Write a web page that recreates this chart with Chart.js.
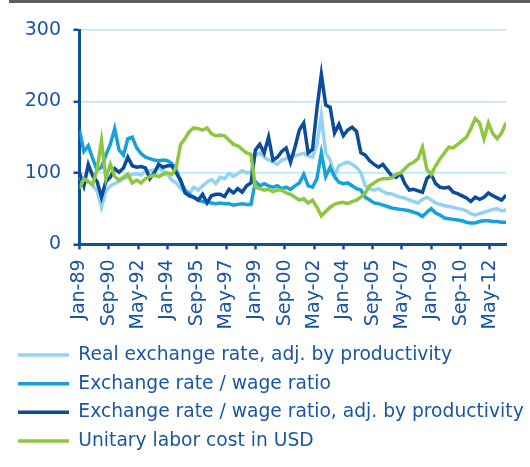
<!DOCTYPE html>
<html>
<head>
  <title>Exchange rate indicators</title>
  <style>
    body {
      margin: 0;
      padding: 0;
      background-color: #fff;
    }

    #container {
      position: relative;
      width: 530px;
      height: 467px;
    }

    #topRule {
      position: absolute;
      top: 0;
      left: 9px;
      right: 0;
      height: 3px;
      background-color: #5f5f5f;
    }
  </style>
</head>
<body>

<div id="container">
  <div id="topRule"></div>
  <canvas id="myChart"></canvas>
</div>

<script src="https://cdn.jsdelivr.net/npm/chart.js"></script>
<script>
  // one value every 3 months, starting Jan-89
  const STEP_MONTHS = 3;

  const tickLabels = ['Jan-89', 'Sep-90', 'May-92', 'Jan-94', 'Sep-95', 'May-97', 'Jan-99', 'Sep-00',
                      'May-02', 'Jan-04', 'Sep-05', 'May-07', 'Jan-09', 'Sep-10', 'May-12'];

  const seriesNames = ['Real exchange rate, adj. by productivity', 'Exchange rate / wage ratio',
                       'Exchange rate / wage ratio, adj. by productivity', 'Unitary labor cost in USD'];

  const realExchAdj = [94, 85, 88, 82, 75, 52, 75, 82, 85, 88, 92, 94, 98, 99, 97, 103, 103, 104, 107, 103,
                       98, 90, 86, 78, 74, 72, 80, 76, 82, 87, 91, 85, 94, 92, 99, 95, 99, 103, 100, 101,
                       125, 128, 122, 118, 116, 112, 118, 120, 123, 124, 126, 127, 124, 122, 140, 180, 128, 118, 96, 110,
                       113, 115, 112, 108, 100, 82, 78, 76, 78, 74, 71, 71, 68, 66, 65, 62, 60, 58, 63, 66,
                       62, 58, 56, 54, 53, 52, 50, 49, 47, 43, 41, 43, 45, 47, 49, 50, 47, 48];

  const exchWage = [160, 130, 138, 120, 104, 108, 125, 140, 162, 132, 125, 148, 150, 135, 127, 122, 120, 118, 117, 118,
                    117, 113, 104, 88, 76, 70, 66, 62, 60, 59, 58, 57, 58, 57, 57, 55, 56, 57, 56, 56,
                    88, 82, 85, 82, 80, 82, 78, 80, 77, 82, 86, 98, 82, 80, 92, 128, 95, 108, 95, 87,
                    85, 86, 82, 78, 76, 66, 62, 58, 57, 55, 53, 51, 50, 49, 48, 47, 45, 43, 39, 45,
                    50, 44, 41, 37, 36, 35, 34, 33, 31, 30, 30, 32, 33, 33, 32, 32, 31, 31];

  const exchWageAdj = [100, 82, 112, 96, 88, 66, 88, 94, 106, 101, 107, 122, 110, 108, 109, 107, 92, 100, 112, 108,
                       110, 110, 100, 90, 72, 68, 66, 62, 70, 58, 68, 70, 70, 67, 77, 72, 78, 73, 82, 86,
                       132, 140, 128, 150, 118, 122, 130, 135, 115, 136, 160, 170, 128, 133, 190, 238, 195, 192, 156, 168,
                       152, 160, 164, 158, 128, 125, 117, 112, 108, 112, 104, 96, 94, 99, 85, 76, 77, 75, 73, 92,
                       98, 85, 80, 79, 80, 73, 71, 68, 65, 60, 66, 63, 66, 72, 68, 65, 62, 69];

  const unitLaborCost = [78, 92, 88, 84, 105, 145, 92, 112, 95, 90, 94, 98, 86, 90, 86, 92, 95, 97, 95, 98,
                         100, 98, 108, 140, 148, 158, 163, 162, 160, 163, 155, 152, 153, 152, 146, 140, 138, 133, 128, 126,
                         80, 78, 76, 77, 74, 76, 76, 72, 70, 66, 62, 64, 58, 62, 52, 40, 46, 52, 56, 58,
                         59, 57, 60, 62, 66, 72, 82, 86, 90, 92, 92, 93, 98, 100, 106, 112, 115, 120, 136, 105,
                         98, 110, 120, 128, 136, 135, 140, 145, 150, 162, 176, 170, 148, 170, 155, 148, 156, 170];

  const seriesColors = ['#93d3f1', '#17a1dc', '#0b4c9c', '#8dc63f'];

  const textColor = '#1a56a4';
  const axisColor = '#0d4fa0';
  const gridColor = '#b8e4f6';

  function toPoints(values) {
    return values.map((v, i) => ({ x: i * STEP_MONTHS, y: v }));
  }

  const allSeries = [realExchAdj, exchWage, exchWageAdj, unitLaborCost];
  const lastMonth = (realExchAdj.length - 1) * STEP_MONTHS;

  const datasets = allSeries.map((values, i) => ({
    label: seriesNames[i],
    data: toPoints(values),
    borderColor: seriesColors[i],
    backgroundColor: seriesColors[i],
    borderWidth: 3.5,
    pointRadius: 0,
    tension: 0,
    order: allSeries.length - 1 - i // later series on top, like the original
  }));

  const ctx = document.getElementById('myChart').getContext('2d');
  const myChart = new Chart(ctx, {
    type: 'line',
    data: { datasets: datasets },
    options: {
      responsive: true,
      maintainAspectRatio: false,
      animation: false,
      devicePixelRatio: 1,
      layout: {
        padding: { left: 8, right: 0, top: 30, bottom: 6.6 }
      },
      scales: {
        x: {
          type: 'linear',
          min: 0,
          max: lastMonth,
          afterFit: (scale) => { scale.height = 91.2; },
          border: { color: axisColor, width: 3 },
          grid: {
            drawOnChartArea: false,
            tickLength: 5,
            tickColor: axisColor,
            tickWidth: 2.5
          },
          ticks: {
            stepSize: 20,
            includeBounds: false,
            autoSkip: false,
            minRotation: 90,
            maxRotation: 90,
            padding: 10,
            color: textColor,
            font: { family: 'DejaVu Sans', size: 19 },
            callback: (v) => tickLabels[v / 20]
          }
        },
        y: {
          min: 0,
          max: 300,
          afterFit: (scale) => { scale.width = 71.5; },
          border: { color: axisColor, width: 3 },
          grid: {
            color: gridColor,
            lineWidth: 1.5,
            tickLength: 6,
            tickColor: axisColor,
            tickWidth: 2.5
          },
          ticks: {
            stepSize: 100,
            padding: 12.5,
            color: textColor,
            font: { family: 'DejaVu Sans', size: 19 }
          }
        },
        // empty right-hand space, so the legend can still use the full width
        spacer: {
          position: 'right',
          afterFit: (scale) => { scale.width = 24; },
          grid: { display: false },
          border: { display: false },
          ticks: { display: false }
        }
      },
      plugins: {
        tooltip: { enabled: false },
        legend: {
          position: 'bottom',
          align: 'start',
          labels: {
            usePointStyle: true,
            pointStyle: 'line',
            pointStyleWidth: 51,
            padding: 10,
            color: textColor,
            font: { family: 'DejaVu Sans', size: 18.7 },
            sort: (a, b) => a.datasetIndex - b.datasetIndex
          }
        }
      }
    }
  });
</script>
</body>
</html>
